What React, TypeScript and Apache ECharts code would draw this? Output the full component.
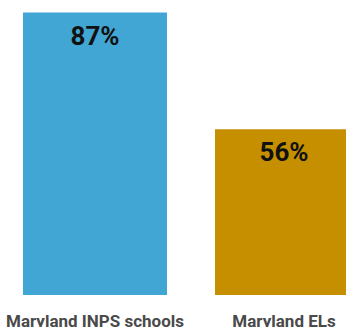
import React, { useEffect, useRef } from "react";
import * as echarts from "echarts";

const categories = ["Maryland INPS schools", "Maryland ELs"];
const values = [87, 56];
const colors = ["#42a6d4", "#c58f00"];

export default function App() {
  const ref = useRef<HTMLDivElement>(null);
  useEffect(() => {
    if (!ref.current) return;
    const chart = echarts.init(ref.current, null, { renderer: "svg" });
    chart.setOption({
      animation: false,
      backgroundColor: "#ffffff",
      grid: { left: -1, width: 384, top: 12.5, bottom: 32, outerBoundsMode: "none" },
      xAxis: {
        type: "category",
        data: categories,
        axisLine: { show: false },
        axisTick: { show: false },
        axisLabel: {
          interval: 0,
          margin: 17,
          color: "#4a4a4a",
          fontFamily: "Roboto",
          fontWeight: "bold",
          fontSize: 17,
          formatter: (v: string, i: number) => (i === 1 ? "{b|" + v + "}" : v),
          rich: {
            b: {
              color: "#4a4a4a",
              fontFamily: "Roboto",
              fontWeight: "bold",
              fontSize: 17,
              padding: [0, 6, 0, 0],
            },
          },
        },
      },
      yAxis: {
        type: "value",
        min: 12,
        max: 87,
        show: false,
        splitLine: { show: false },
      },
      series: [
        {
          type: "bar",
          barWidth: 144,
          data: values.map((v, i) => ({
            value: v,
            itemStyle: { color: colors[i] },
            label: i === 1 ? { offset: [-3, 0] } : undefined,
          })),
          label: {
            show: true,
            position: "insideTop",
            distance: 10,
            formatter: "{c}%",
            color: "#111111",
            fontFamily: "Roboto",
            fontWeight: "bold",
            fontSize: 26,
          },
        },
      ],
    });
    return () => chart.dispose();
  }, []);
  return <div ref={ref} style={{ width: 346, height: 327, position: "fixed", left: 0, top: 0 }} />;
}
